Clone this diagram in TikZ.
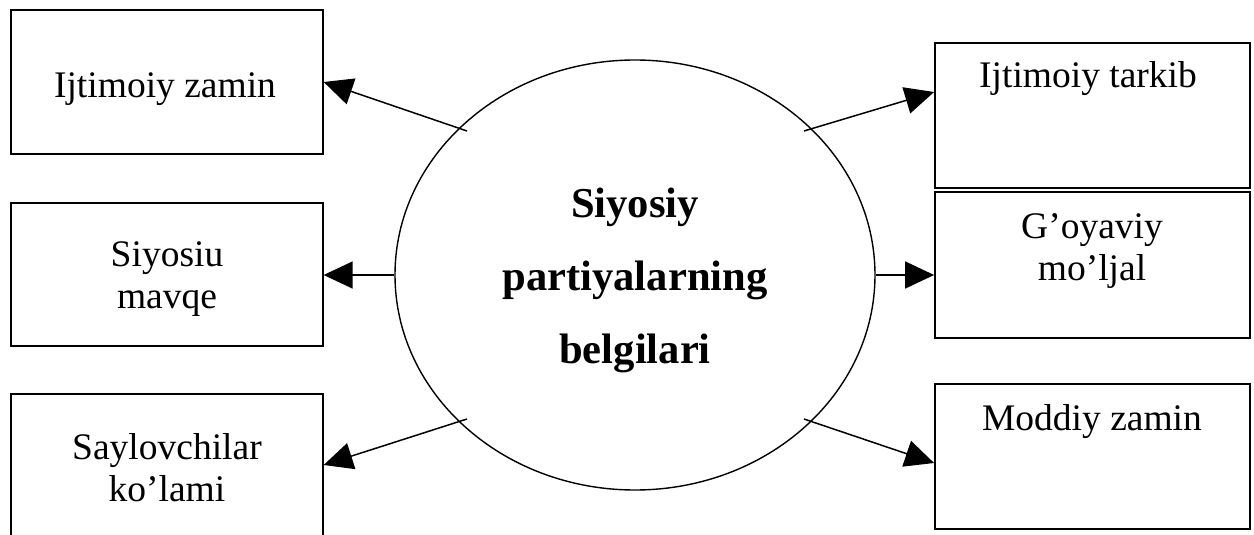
\documentclass[tikz,border=0pt]{standalone}
\usepackage{fontspec}
\setmainfont{Liberation Serif}
\usetikzlibrary{shapes.geometric,arrows.meta,calc}
\begin{document}
\begin{tikzpicture}[x=1pt,y=-1pt,
  lbox/.style={draw, line width=1.3pt, rectangle, inner sep=0pt},
  rbox/.style={draw, line width=1.8pt, rectangle, inner sep=0pt},
  lbl/.style={font=\fontsize{37.5}{41.5}\selectfont, align=center, anchor=base, inner sep=0pt},
  conn/.style={line width=1.5pt, -{Triangle[length=29pt,width=27pt]}}]
\useasboundingbox (0,0) rectangle (1254,535);
% central ellipse
\node[draw, ellipse, line width=1.4pt, inner sep=0pt, minimum width=480pt, minimum height=430pt] (c) at (635,275) {};
\node[font=\bfseries\fontsize{42.6}{73}\selectfont, align=center, anchor=base, inner sep=0pt] (ct) at (635,363) {Siyosiy\\partiyalarning\\belgilari};
% left boxes
\node[lbox, minimum width=312pt, minimum height=144pt] (b1) at (167,82) {};
\node[lbox, minimum width=312pt, minimum height=143pt] (b2) at (167,274.5) {};
\node[lbox, minimum width=312pt, minimum height=142pt] (b3) at (167,465) {};
% right boxes
\node[rbox, minimum width=315pt, minimum height=145pt] (b4) at (1092.5,115.5) {};
\node[rbox, minimum width=315pt, minimum height=146pt] (b5) at (1092.5,265) {};
\node[rbox, minimum width=315pt, minimum height=145pt] (b6) at (1092.5,456.5) {};
% labels (base anchor = baseline of last line)
\node[lbl] (t1) at (165,97) {Ijtimoiy zamin};
\node[lbl] (t2) at (167,308) {Siyosiu\\mavqe};
\node[lbl] (t3) at (167,501) {Saylovchilar\\ko’lami};
\node[lbl] (t4) at (1088,88) {Ijtimoiy tarkib};
\node[lbl] (t5) at (1092,280) {G’oyaviy\\mo’ljal};
\node[lbl] (t6) at (1092,430) {Moddiy zamin};
% connectors
\coordinate (s1) at ($(c.center)+(-168,-144)$);
\coordinate (s3) at ($(c.center)+(-168,144)$);
\coordinate (s4) at ($(c.center)+(169,-144)$);
\coordinate (s6) at ($(c.center)+(169,144)$);
\draw[conn] (s1) -- (b1.east);
\draw[conn] (c.west) -- (c.west -| b2.east);
\draw[conn] (s3) -- (b3.east);
\draw[conn] (s4) -- ($(b4.west)+(0,-23.5)$);
\draw[conn] (c.east) -- (c.east -| b5.west);
\draw[conn] (s6) -- ($(b6.west)+(0,6.5)$);
\end{tikzpicture}
\end{document}
